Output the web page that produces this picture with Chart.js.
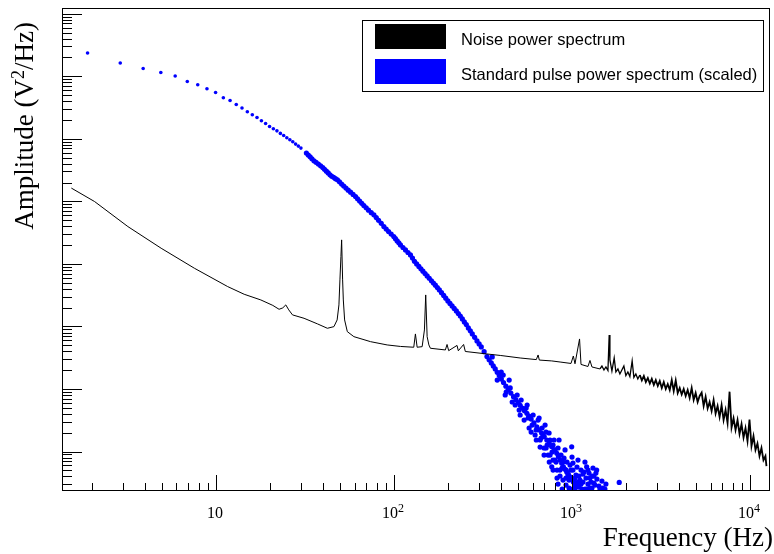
<!DOCTYPE html>
<html>
<head>
<meta charset="utf-8">
<script src="https://cdn.jsdelivr.net/npm/chart.js@4.4.0/dist/chart.umd.min.js"></script>
<style>
  html, body { margin: 0; padding: 0; background: #fff; }
  canvas { display: block; }
</style>
</head>
<body>
<canvas id="spectrum" width="774" height="554"></canvas>
<script>
// values (Hz, V^2/Hz in arbitrary decade offset)
const noiseHz = [1.54, 2.08, 3.20, 4.92, 7.56, 11.63, 14.40, 17.87, 20.86, 22.62, 23.73, 24.67, 25.64, 26.90,
  31.24, 37.12, 42.24, 45.98, 47.92, 49.05, 49.69, 50.33, 50.79, 51.45, 51.92, 52.79, 54.67, 59.52, 73.84,
  91.57, 108.7, 129.1, 131.9, 134.9, 143.9, 148.2, 150.7, 153.5, 157.0, 160.1, 194.3, 198.6, 202.8, 225.9,
  229.8, 246.0, 251.5, 332.8, 395.0, 511.3, 630, 644.7, 655, 769.4, 856.8, 986.8, 1017, 1039, 1102, 1123,
  1229, 1261, 1294,
  1435, 1472, 1511, 1550, 1591, 1617, 1632, 1675, 1725, 1763, 1810, 1857, 1905, 1955, 2006, 2059, 2113,
  2176, 2225, 2283, 2342, 2404, 2466, 2531, 2597, 2665, 2735, 2805, 2879, 2954, 3031, 3110, 3192, 3275,
  3361, 3448, 3538, 3631, 3725, 3823, 3922, 4025, 4130, 4238, 4348, 4462, 4578, 4699, 4821, 4947, 5076,
  5209, 5346, 5485, 5628, 5775, 5926, 6081, 6240, 6403, 6570, 6742, 6918, 7099, 7284, 7474, 7670, 7870,
  8076, 8287, 8503, 8725, 8954, 9188, 9427, 9674, 9926, 10186, 10452, 10725, 11005, 11293, 11588, 11891,
  12201, 12359];
const noiseAmp = [1.63e-10, 9.93e-11, 3.95e-11, 1.78e-11, 8.53e-12, 4.34e-12, 3.27e-12, 2.65e-12, 2.17e-12,
  1.88e-12, 1.98e-12, 2.21e-12, 1.84e-12, 1.53e-12, 1.35e-12, 1.10e-12, 9.35e-13, 9.93e-13, 1.27e-12,
  2.21e-12, 5.55e-12, 1.31e-11, 2.42e-11, 5.55e-12, 2.65e-12, 1.27e-12, 8.26e-13, 6.87e-13, 5.71e-13,
  5.06e-13, 4.79e-13, 4.65e-13, 7.59e-13, 4.65e-13, 4.75e-13, 8.79e-13, 3.19e-12, 6.87e-13, 5.06e-13,
  4.48e-13, 4.21e-13, 5.15e-13, 4.10e-13, 4.97e-13, 4.08e-13, 5.15e-13, 3.98e-13, 3.63e-13, 3.44e-13,
  3.13e-13, 2.95e-13, 3.50e-13, 2.90e-13, 2.81e-13, 2.70e-13, 2.56e-13, 3.37e-13, 2.53e-13, 6.31e-13,
  2.47e-13, 2.29e-13, 2.86e-13, 2.25e-13,
  2.09e-13, 2.33e-13, 2.01e-13, 2.25e-13, 1.98e-13, 7.31e-13, 2.91e-13, 1.94e-13, 3.13e-13, 1.87e-13,
  2.09e-13, 1.74e-13, 2.01e-13, 2.33e-13, 1.64e-13, 1.87e-13, 1.58e-13, 2.81e-13, 1.53e-13, 1.74e-13,
  1.45e-13, 1.67e-13, 1.37e-13, 1.61e-13, 1.29e-13, 1.50e-13, 1.22e-13, 1.45e-13, 1.16e-13, 1.39e-13,
  1.12e-13, 1.34e-13, 1.04e-13, 1.29e-13, 1.00e-13, 1.20e-13, 9.64e-14, 1.39e-13, 9.29e-14, 1.37e-13,
  8.63e-14, 1.04e-13, 8.17e-14, 1.00e-13, 7.73e-14, 9.64e-14, 7.18e-14, 1.04e-13, 6.67e-14, 8.63e-14,
  6.19e-14, 7.73e-14, 8.73e-14, 5.35e-14, 7.53e-14, 4.88e-14, 6.19e-14, 4.45e-14, 6.67e-14, 4.06e-14,
  5.35e-14, 3.56e-14, 5.55e-14, 3.19e-14, 4.61e-14, 2.86e-14, 9.06e-14, 2.42e-14, 3.40e-14, 2.21e-14,
  3.19e-14, 1.91e-14, 2.75e-14, 1.67e-14, 2.38e-14, 1.47e-14, 3.25e-14, 1.22e-14, 1.77e-14, 1.06e-14,
  1.35e-14, 8.47e-15, 1.14e-14, 7.31e-15, 8.47e-15, 5.86e-15];

const pulseHz = [1.9, 2.9, 3.9, 4.9, 5.9, 6.9, 7.9, 8.9, 9.95, 11, 12, 13, 14, 15, 16, 17, 18, 19, 20, 21,
  22, 23, 24, 25, 26, 27, 28, 29, 30,
  32.2, 33.8, 35.5, 37.6, 39.8, 41.7, 43.7, 45.8, 48.1, 50.8, 53.7, 57.0, 60.8, 64.1, 67.7, 71.9, 77.1,
  81.9, 87.7, 93.2, 99.7, 104.2, 108.7, 116.0, 123.7, 130.3, 137.9, 145.4, 153.5, 162.3, 170.8, 179.8,
  190.1, 200.7, 211.9, 223.9, 235.8, 248.3, 261.5, 275.3, 292.5, 309.2, 332.8, 351.8, 370.4, 389.9, 412.2,
  437.9, 469.1, 498.4, 524.8, 557.5, 589.3, 634.2, 674.8, 721.6, 767.8, 821.0, 856.8, 894.1, 933.9, 974.6,
  1017, 1062,
  33.0, 34.6, 36.5, 38.7, 40.7, 42.7, 44.7, 46.9, 49.4, 52.2, 55.3, 58.9, 62.4, 65.9, 69.8, 74.5, 79.5,
  84.8, 90.4, 96.4, 101.9, 106.4, 112.3, 119.8, 127.0, 134.0, 141.6, 149.4, 157.8, 166.5, 175.2, 184.9,
  195.3, 206.2, 217.8, 229.8, 242.0, 254.8, 268.3, 283.8, 300.7, 320.8, 342.2, 361.0, 380.0, 400.9, 424.9,
  453.2, 483.5, 511.4, 540.9, 573.2, 611.3, 654.2, 697.8, 744.4, 793.9, 838.7, 875.3, 913.8, 954.0, 995.6,
  1039,
  356.2, 380.0, 400.2, 421.3, 443.6, 410.6, 426.8, 449.5, 461.2, 491.8, 504.7, 517.8, 538.3, 559.5, 574.1,
  604.5, 620.3, 644.7, 661.6, 678.8, 696.6, 714.8, 733.4, 752.5, 769.2, 782.2, 802.6, 823.6, 834.2, 855.9,
  867.0, 889.7, 901.6, 925.1, 937.1, 961.6, 974.1, 995.7, 1012, 1039, 1052, 1080, 1108, 1137, 1167, 1208,
  1229, 1261, 1294, 1327, 1375, 1416, 1491, 1550, 1841,
  566.8, 596.8, 628.4, 653.1, 687.7, 705.7, 724.3, 743.2, 772.5, 792.6, 813.4, 845.5, 878.8, 913.4, 949.5,
  999.8, 1026, 1066, 1094, 1123, 1152, 1182, 1213, 1245, 1277, 1311, 1345, 1380, 1435, 1472, 1530, 834.4,
  880.5, 925.4, 976, 1028, 1081, 1185, 696.6, 745, 782.5, 661.7, 630, 589.2, 511.2, 479.3, 552.4,
  855.9, 889.7, 927, 961.8, 987.0, 1012, 1039, 1066, 1094, 1123, 1152, 1198, 1229, 1261, 1294, 1327, 1362,
  670.4, 714.8, 752.5, 802.6, 823.6, 782.2];
const pulseAmp = [2.35e-8, 1.63e-8, 1.33e-8, 1.15e-8, 1.01e-8, 8.26e-9, 7.31e-9, 6.31e-9, 5.51e-9, 4.53e-9,
  4.10e-9, 3.54e-9, 3.10e-9, 2.70e-9, 2.42e-9, 2.19e-9, 1.94e-9, 1.76e-9, 1.57e-9, 1.45e-9, 1.34e-9,
  1.22e-9, 1.13e-9, 1.04e-9, 9.64e-10, 8.95e-10, 8.22e-10, 7.64e-10, 7.10e-10,
  5.90e-10, 5.15e-10, 4.45e-10, 3.94e-10, 3.47e-10, 3.04e-10, 2.65e-10, 2.42e-10, 2.21e-10, 1.89e-10,
  1.63e-10, 1.40e-10, 1.19e-10, 1.01e-10, 8.57e-11, 7.23e-11, 6.08e-11, 4.97e-11, 3.95e-11, 3.29e-11,
  2.74e-11, 2.33e-11, 2.01e-11, 1.67e-11, 1.39e-11, 1.10e-11, 9.12e-12, 7.64e-12, 6.43e-12, 5.38e-12,
  4.56e-12, 3.84e-12, 3.13e-12, 2.56e-12, 2.13e-12, 1.77e-12, 1.47e-12, 1.18e-12, 9.46e-13, 7.59e-13,
  5.86e-13, 4.70e-13, 3.30e-13, 2.61e-13, 2.09e-13, 1.64e-13, 1.27e-13, 9.77e-14, 7.53e-14, 6.08e-14,
  4.97e-14, 4.08e-14, 3.31e-14, 2.49e-14, 1.98e-14, 1.53e-14, 1.20e-14, 9.35e-15, 7.31e-15, 5.71e-15,
  4.70e-15, 3.95e-15, 3.25e-15, 2.74e-15,
  5.5e-10, 4.8e-10, 4.2e-10, 3.7e-10, 3.25e-10, 2.85e-10, 2.52e-10, 2.3e-10, 2.05e-10, 1.76e-10, 1.51e-10,
  1.29e-10, 1.10e-10, 9.3e-11, 7.9e-11, 6.6e-11, 5.5e-11, 4.45e-11, 3.6e-11, 3.0e-11, 2.53e-11, 2.17e-11,
  1.83e-11, 1.52e-11, 1.24e-11, 1.0e-11, 8.35e-12, 7.0e-12, 5.9e-12, 4.95e-12, 4.18e-12, 3.47e-12,
  2.83e-12, 2.33e-12, 1.94e-12, 1.61e-12, 1.32e-12, 1.07e-12, 8.5e-13, 6.7e-13, 5.25e-13, 3.95e-13,
  2.93e-13, 2.34e-13, 1.85e-13, 1.44e-13, 1.11e-13, 8.6e-14, 6.75e-14, 5.5e-14, 4.5e-14, 3.67e-14, 2.87e-14,
  2.22e-14, 1.74e-14, 1.36e-14, 1.06e-14, 8.3e-15, 6.5e-15, 5.2e-15, 4.3e-15, 3.6e-15, 3.0e-15,
  3.25e-13, 1.39e-13, 1.87e-13, 8.02e-14, 1.39e-13, 1.67e-13, 8.95e-14, 1.04e-13, 6.19e-14, 8.02e-14,
  4.61e-14, 6.67e-14, 3.19e-14, 5.55e-14, 2.38e-14, 3.84e-14, 1.84e-14, 3.19e-14, 1.53e-14, 2.38e-14,
  1.14e-14, 2.05e-14, 8.79e-15, 1.53e-14, 5.71e-15, 1.27e-14, 7.31e-15, 5.06e-15, 1.14e-14, 4.06e-15,
  8.79e-15, 3.50e-15, 7.87e-15, 2.91e-15, 6.79e-15, 2.61e-15, 6.08e-15, 1.19e-14, 5.06e-15, 2.61e-15,
  4.21e-15, 7.31e-15, 3.50e-15, 2.51e-15, 4.70e-15, 5.71e-15, 3.02e-15, 3.77e-15, 2.61e-15, 4.06e-15,
  5.06e-15, 2.81e-15, 2.61e-15, 3.02e-15, 3.21e-15,
  3.44e-14, 2.65e-14, 2.21e-14, 3.44e-14, 1.77e-14, 2.65e-14, 1.27e-14, 1.98e-14, 9.82e-15, 1.53e-14,
  6.79e-15, 1.53e-14, 5.45e-15, 1.06e-14, 4.21e-15, 8.17e-15, 3.50e-15, 5.65e-15, 2.70e-15, 5.06e-15,
  3.25e-15, 6.79e-15, 2.51e-15, 4.53e-15, 3.25e-15, 5.45e-15, 2.91e-15, 3.63e-15, 2.51e-15, 3.37e-15,
  2.51e-15, 3.02e-15, 2.51e-15, 3.77e-15, 2.51e-15, 2.61e-15, 3.25e-15, 2.51e-15, 8.79e-15, 6.79e-15,
  5.06e-15, 1.18e-14, 1.53e-14, 2.05e-14, 3.84e-14, 5.55e-14, 4.97e-14,
  5.06e-15, 6.79e-15, 5.06e-15, 3.50e-15, 5.06e-15, 6.55e-15, 3.77e-15, 2.81e-15, 4.06e-15, 3.02e-15,
  4.37e-15, 3.77e-15, 5.06e-15, 2.61e-15, 4.06e-15, 3.13e-15, 4.53e-15,
  1.64e-14, 1.14e-14, 8.79e-15, 1.06e-14, 3.77e-15, 7.31e-15];

const seriesLabels = ['Noise power spectrum', 'Standard pulse power spectrum (scaled)'];
const seriesColors = ['#000000', '#0000ff'];

// axis ranges and tick labels
const X_MIN = 1.365, X_MAX = 12940;
const Y_MIN = 2.34e-15, Y_MAX = 1.233e-7;
const xTickValues = [10, 100, 1000, 10000];
const xTickLabels = ['10', '10^2', '10^3', '10^4'];
const xDecades = [1, 10, 100, 1000, 10000];
const yDecades = [1e-15, 1e-14, 1e-13, 1e-12, 1e-11, 1e-10, 1e-9, 1e-8, 1e-7];
const tickSteps = [1, 2, 3, 4, 5, 6, 7, 8, 9];

const toPoints = (xs, ys) => xs.map((x, i) => ({ x, y: ys[i] }));

// ROOT-like frame, inward ticks, labels, titles and legend
const rootDecor = {
  id: 'rootDecor',
  afterDraw(chart) {
    const { ctx, chartArea: a } = chart;
    const xs = chart.scales.x, ys = chart.scales.y;
    ctx.save();
    ctx.strokeStyle = '#000';
    ctx.fillStyle = '#000';
    ctx.lineWidth = 1;
    ctx.strokeRect(a.left + 0.5, a.top + 0.5, a.right - a.left - 1, a.bottom - a.top - 1);

    ctx.beginPath();
    xDecades.forEach((d) => tickSteps.forEach((m) => {
      const v = m * d;
      if (v < X_MIN || v > X_MAX) return;
      const px = Math.round(xs.getPixelForValue(v)) + 0.5;
      ctx.moveTo(px, a.bottom);
      ctx.lineTo(px, a.bottom - (m === 1 ? 16 : 8));
    }));
    yDecades.forEach((d) => tickSteps.forEach((m) => {
      const v = m * d;
      if (v < Y_MIN || v > Y_MAX) return;
      const py = Math.round(ys.getPixelForValue(v)) + 0.5;
      ctx.moveTo(a.left, py);
      ctx.lineTo(a.left + (m === 1 ? 20 : 10), py);
    }));
    ctx.stroke();

    // x tick labels with superscript exponent
    ctx.textAlign = 'left';
    ctx.textBaseline = 'alphabetic';
    xTickValues.forEach((v, i) => {
      const [base, exp] = xTickLabels[i].split('^');
      ctx.font = '16px "Liberation Serif"';
      const wb = ctx.measureText(base).width;
      ctx.font = '12px "Liberation Serif"';
      const we = exp ? ctx.measureText(exp).width : 0;
      const left = xs.getPixelForValue(v) - (wb + we) / 2 - 1;
      ctx.font = '16px "Liberation Serif"';
      ctx.fillText(base, left, 518);
      if (exp) {
        ctx.font = '12px "Liberation Serif"';
        ctx.fillText(exp, left + wb, 511.5);
      }
    });

    // x title
    ctx.font = '27px "Liberation Serif"';
    ctx.textAlign = 'right';
    ctx.fillText('Frequency (Hz)', 773, 546);

    // y title, rotated
    ctx.save();
    ctx.translate(33, 0);
    ctx.rotate(-Math.PI / 2);
    ctx.textAlign = 'left';
    ctx.font = '27px "Liberation Serif"';
    const t1 = 'Amplitude (V', t3 = '/Hz)';
    const w1 = ctx.measureText(t1).width, w3 = ctx.measureText(t3).width;
    ctx.font = '18px "Liberation Serif"';
    const w2 = ctx.measureText('2').width;
    const sx = -22 - (w1 + w2 + w3);
    ctx.font = '27px "Liberation Serif"';
    ctx.fillText(t1, sx, 0);
    ctx.fillText(t3, sx + w1 + w2, 0);
    ctx.font = '18px "Liberation Serif"';
    ctx.fillText('2', sx + w1, -9);
    ctx.restore();

    // legend
    ctx.fillStyle = '#fff';
    ctx.fillRect(362, 20, 401, 71);
    ctx.strokeRect(362.5, 20.5, 401, 71);
    ctx.font = '16.5px "Liberation Sans"';
    ctx.textAlign = 'left';
    chart.data.datasets.forEach((ds, i) => {
      const top = i === 0 ? 24 : 59;
      ctx.fillStyle = seriesColors[i];
      ctx.fillRect(375, top, 71, 25);
      ctx.fillStyle = '#000';
      ctx.fillText(ds.label, 461, i === 0 ? 44.5 : 80);
    });
    ctx.restore();
  }
};

const ctx = document.getElementById('spectrum').getContext('2d');
const chart = new Chart(ctx, {
  type: 'scatter',
  data: {
    datasets: [
      {
        label: seriesLabels[0],
        data: toPoints(noiseHz, noiseAmp),
        showLine: true,
        borderColor: seriesColors[0],
        backgroundColor: seriesColors[0],
        borderWidth: 1,
        pointRadius: 0,
        tension: 0,
        // the dense high-frequency part reads as a thick band in the original
        segment: {
          borderWidth: (c) => (c.p0.parsed.x > 2400 ? 1.8 : c.p0.parsed.x > 1400 ? 1.3 : 1)
        }
      },
      {
        label: seriesLabels[1],
        data: toPoints(pulseHz, pulseAmp),
        showLine: false,
        borderColor: seriesColors[1],
        backgroundColor: seriesColors[1],
        pointBorderWidth: 0,
        pointRadius: (c) => (c.raw && c.raw.x < 31 ? 1.8 : 2.6)
      }
    ]
  },
  options: {
    responsive: false,
    animation: false,
    devicePixelRatio: 1,
    events: [],
    layout: { padding: { left: 62, right: 4, top: 8, bottom: 63 } },
    scales: {
      x: { type: 'logarithmic', min: X_MIN, max: X_MAX, display: false, bounds: 'data' },
      y: { type: 'logarithmic', min: Y_MIN, max: Y_MAX, display: false, bounds: 'data' }
    },
    plugins: {
      legend: { display: false },
      tooltip: { enabled: false }
    }
  },
  plugins: [rootDecor]
});
</script>
</body>
</html>
